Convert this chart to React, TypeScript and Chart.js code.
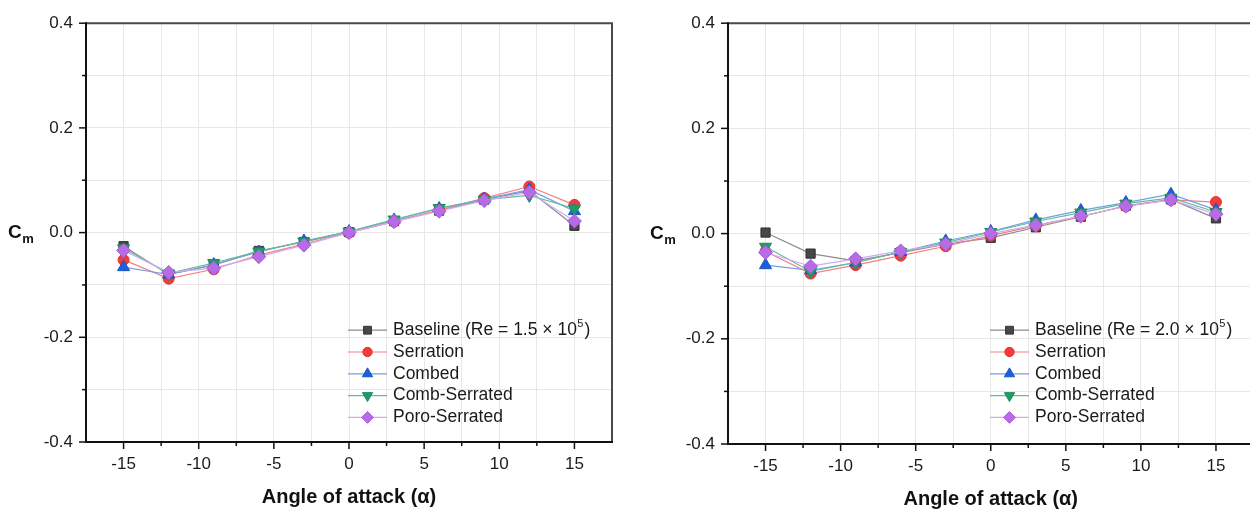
import React, { useEffect, useRef } from "react";
import { Chart, registerables } from "chart.js";

Chart.register(...registerables);

// ---------- data ----------
const angles = [-15, -12, -9, -6, -3, 0, 3, 6, 9, 12, 15];

const seriesNames = ["Baseline", "Serration", "Combed", "Comb-Serrated", "Poro-Serrated"];
const reynoldsLabels = ["1.5", "2.0"];

// Re = 1.5 x 10^5
const baselineA = [-0.026, -0.080, -0.062, -0.035, -0.018, 0.001, 0.022, 0.042, 0.063, 0.080, 0.013];
const serrationA = [-0.052, -0.088, -0.070, -0.043, -0.022, 0.000, 0.021, 0.043, 0.066, 0.088, 0.053];
const combedA = [-0.066, -0.080, -0.061, -0.037, -0.016, 0.002, 0.024, 0.046, 0.064, 0.082, 0.041];
const combSerratedA = [-0.030, -0.078, -0.058, -0.036, -0.017, 0.002, 0.025, 0.047, 0.063, 0.071, 0.046];
const poroSerratedA = [-0.034, -0.076, -0.068, -0.046, -0.024, 0.000, 0.021, 0.041, 0.061, 0.077, 0.022];

// Re = 2.0 x 10^5
const baselineB = [0.002, -0.038, -0.052, -0.036, -0.020, -0.008, 0.012, 0.032, 0.053, 0.065, 0.029];
const serrationB = [-0.034, -0.076, -0.060, -0.042, -0.024, -0.004, 0.015, 0.033, 0.052, 0.064, 0.060];
const combedB = [-0.060, -0.070, -0.055, -0.035, -0.014, 0.004, 0.026, 0.044, 0.059, 0.075, 0.045];
const combSerratedB = [-0.025, -0.072, -0.055, -0.035, -0.017, 0.003, 0.023, 0.040, 0.057, 0.068, 0.041];
const poroSerratedB = [-0.036, -0.062, -0.048, -0.033, -0.020, 0.000, 0.016, 0.033, 0.052, 0.064, 0.037];

const panelA = [baselineA, serrationA, combedA, combSerratedA, poroSerratedA];
const panelB = [baselineB, serrationB, combedB, combSerratedB, poroSerratedB];

// ---------- styles ----------
const FONT = "'Liberation Sans', Arial, Helvetica, sans-serif";
const styles = [
  { line: "#8c8c8c", fill: "#474747", border: "#333333", shape: "rect", r: 6.5, rot: 0 },
  { line: "#f58080", fill: "#f23c3c", border: "#e83030", shape: "circle", r: 5.5, rot: 0 },
  { line: "#739ee8", fill: "#1c5fd8", border: "#1a56c8", shape: "triangle", r: 7, rot: 0 },
  { line: "#62bd98", fill: "#229a68", border: "#1d8c5d", shape: "triangle", r: 7, rot: 180 },
  { line: "#d2aaf0", fill: "#b56ce4", border: "#a95fd9", shape: "rectRot", r: 7, rot: 0 },
];

type Geom = { W: number; H: number; padTop: number; padRight: number; yW: number; xH: number };
const geoms: Geom[] = [
  { W: 640, H: 511, padTop: 19, padRight: 28, yW: 86, xH: 69 },
  { W: 640, H: 511, padTop: 22, padRight: 26.5, yW: 88, xH: 67 },
];

function drawMarker(ctx: CanvasRenderingContext2D, shape: string, x: number, y: number, r: number, rot: number) {
  ctx.beginPath();
  if (shape === "circle") {
    ctx.arc(x, y, r, 0, Math.PI * 2);
  } else if (shape === "rect") {
    const s = r * Math.SQRT1_2;
    ctx.rect(x - s, y - s, 2 * s, 2 * s);
  } else if (shape === "rectRot") {
    ctx.moveTo(x, y - r);
    ctx.lineTo(x + r, y);
    ctx.lineTo(x, y + r);
    ctx.lineTo(x - r, y);
    ctx.closePath();
  } else if (shape === "triangle") {
    const a0 = (rot * Math.PI) / 180;
    for (let i = 0; i < 3; i++) {
      const a = a0 + (i * 2 * Math.PI) / 3;
      const px = x + Math.sin(a) * r;
      const py = y - Math.cos(a) * r;
      if (i === 0) ctx.moveTo(px, py);
      else ctx.lineTo(px, py);
    }
    ctx.closePath();
  }
  ctx.fill();
  ctx.stroke();
}

function makeChart(canvas: HTMLCanvasElement, series: number[][], reLabel: string, g: Geom) {
  const datasets = series.map((vals, i) => ({
    label: seriesNames[i],
    data: angles.map((a, k) => ({ x: a, y: vals[k] })),
    borderColor: styles[i].line,
    borderWidth: 1.2,
    backgroundColor: styles[i].fill,
    pointStyle: styles[i].shape as any,
    pointRadius: styles[i].r,
    pointRotation: styles[i].rot,
    pointBackgroundColor: styles[i].fill,
    pointBorderColor: styles[i].border,
    pointBorderWidth: 1,
    tension: 0,
    order: 5 - i,
  }));

  const decor = {
    id: "decor",
    afterDraw(chart: any) {
      const { ctx, chartArea: a, scales } = chart;
      const xs = scales.x;
      const ys = scales.y;
      ctx.save();
      // frame
      ctx.lineWidth = 2;
      ctx.strokeStyle = "#4a4a4a";
      ctx.beginPath();
      ctx.moveTo(a.left, a.top);
      ctx.lineTo(a.right, a.top);
      ctx.lineTo(a.right, a.bottom);
      ctx.stroke();
      ctx.strokeStyle = "#111111";
      ctx.beginPath();
      ctx.moveTo(a.left, a.top - 1);
      ctx.lineTo(a.left, a.bottom);
      ctx.lineTo(a.right + 1, a.bottom);
      ctx.stroke();
      // tick marks
      ctx.lineWidth = 1.5;
      xs.ticks.forEach((t: any) => {
        const px = xs.getPixelForValue(t.value);
        const major = Math.abs(t.value % 5) < 1e-6;
        if (Math.abs(t.value) > 17) return;
        ctx.beginPath();
        ctx.moveTo(px, a.bottom);
        ctx.lineTo(px, a.bottom + (major ? 7 : 4));
        ctx.stroke();
      });
      ys.ticks.forEach((t: any) => {
        const py = ys.getPixelForValue(t.value);
        const major = Math.round(t.value * 10) % 2 === 0;
        ctx.beginPath();
        ctx.moveTo(a.left, py);
        ctx.lineTo(a.left - (major ? 7 : 4), py);
        ctx.stroke();
      });
      // axis titles
      ctx.fillStyle = "#111111";
      ctx.textAlign = "center";
      ctx.textBaseline = "middle";
      ctx.font = `bold 20px ${FONT}`;
      ctx.fillText("Angle of attack (\u03b1)", (a.left + a.right) / 2, a.bottom + 55);
      const zy = ys.getPixelForValue(0);
      ctx.textAlign = "left";
      ctx.font = `bold 19px ${FONT}`;
      ctx.fillText("C", a.left - 78, zy);
      const cw = ctx.measureText("C").width;
      ctx.font = `bold 13px ${FONT}`;
      ctx.fillText("m", a.left - 78 + cw + 0.5, zy + 7);
      // legend
      const lx = a.left + 262;
      const ly0 = a.top + 307;
      const dy = 21.8;
      series.forEach((_, i) => {
        const y = ly0 + i * dy;
        const st = styles[i];
        ctx.strokeStyle = st.line;
        ctx.lineWidth = 1.2;
        ctx.beginPath();
        ctx.moveTo(lx, y);
        ctx.lineTo(lx + 39, y);
        ctx.stroke();
        ctx.fillStyle = st.fill;
        ctx.strokeStyle = st.border;
        ctx.lineWidth = 1;
        drawMarker(ctx, st.shape, lx + 19.5, y, st.r * 0.85, st.rot);
        ctx.fillStyle = "#1a1a1a";
        ctx.textBaseline = "middle";
        ctx.font = `17.5px ${FONT}`;
        const tx = lx + 45;
        if (i === 0) {
          const main = `${seriesNames[0]} (Re = ${reLabel} \u00d7 10`;
          ctx.fillText(main, tx, y);
          const w1 = ctx.measureText(main).width;
          ctx.font = `11px ${FONT}`;
          ctx.fillText("5", tx + w1 + 0.5, y - 6);
          const w2 = ctx.measureText("5").width;
          ctx.font = `17.5px ${FONT}`;
          ctx.fillText(")", tx + w1 + w2 + 1.5, y);
        } else {
          ctx.fillText(seriesNames[i], tx, y);
        }
      });
      ctx.restore();
    },
  };

  return new Chart(canvas, {
    type: "line",
    data: { datasets: datasets as any },
    plugins: [decor],
    options: {
      animation: false,
      responsive: false,
      maintainAspectRatio: false,
      devicePixelRatio: 1,
      layout: { padding: { top: g.padTop, right: g.padRight, left: 0, bottom: 0 } },
      plugins: { legend: { display: false }, tooltip: { enabled: false }, title: { display: false } },
      scales: {
        x: {
          type: "linear",
          min: -17.5,
          max: 17.5,
          afterFit: (s: any) => {
            s.height = g.xH;
          },
          border: { display: false },
          grid: { color: "#e8e8e8", lineWidth: 1, drawTicks: false },
          ticks: {
            stepSize: 2.5,
            autoSkip: false,
            maxRotation: 0,
            padding: 12,
            color: "#1a1a1a",
            font: { family: FONT, size: 17 },
            callback: (v: any) => (Math.abs(Number(v) % 5) < 1e-6 ? String(Number(v)) : ""),
          },
        },
        y: {
          type: "linear",
          min: -0.4,
          max: 0.4,
          afterFit: (s: any) => {
            s.width = g.yW;
          },
          border: { display: false },
          grid: { color: "#e8e8e8", lineWidth: 1, drawTicks: false },
          ticks: {
            stepSize: 0.1,
            autoSkip: false,
            padding: 13,
            color: "#1a1a1a",
            font: { family: FONT, size: 17 },
            callback: (v: any) => {
              const k = Math.round(Number(v) * 10);
              return k % 2 === 0 ? (k / 10).toFixed(1) : "";
            },
          },
        },
      },
    },
  });
}

function Panel({ series, reLabel, geom, left }: { series: number[][]; reLabel: string; geom: Geom; left: number }) {
  const ref = useRef<HTMLCanvasElement | null>(null);
  useEffect(() => {
    if (!ref.current) return;
    const ch = makeChart(ref.current, series, reLabel, geom);
    return () => ch.destroy();
  }, []);
  return (
    <canvas
      ref={ref}
      width={geom.W}
      height={geom.H}
      style={{ position: "absolute", left, top: 0, width: geom.W, height: geom.H }}
    />
  );
}

export default function App() {
  return (
    <div
      style={{
        position: "absolute",
        left: 0,
        top: 0,
        width: 1250,
        height: 511,
        overflow: "hidden",
        background: "#ffffff",
      }}
    >
      <Panel series={panelA} reLabel={reynoldsLabels[0]} geom={geoms[0]} left={0} />
      <Panel series={panelB} reLabel={reynoldsLabels[1]} geom={geoms[1]} left={640} />
    </div>
  );
}
